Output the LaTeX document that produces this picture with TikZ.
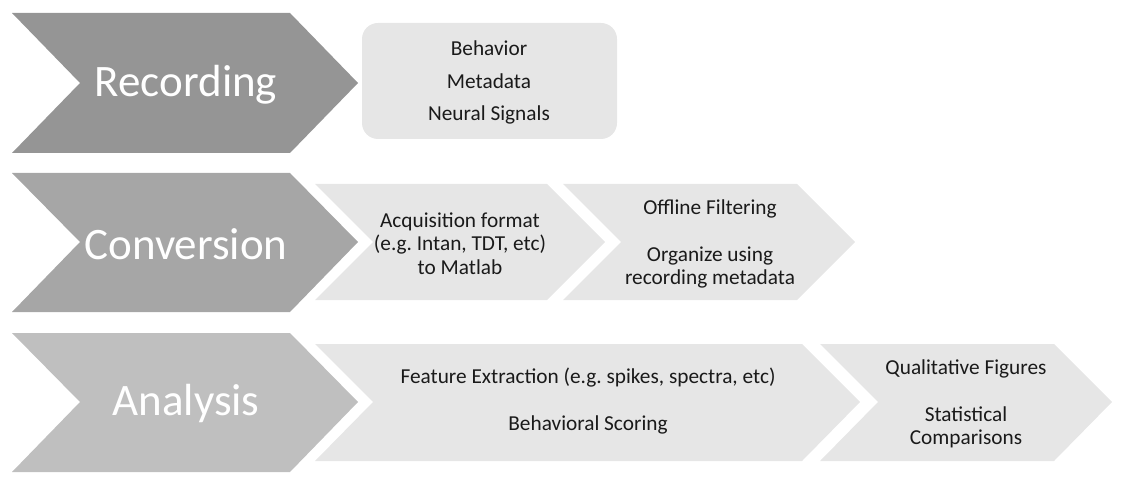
\documentclass[tikz,border=0pt]{standalone}
\usepackage{fontspec}
\setmainfont{Carlito}
\frenchspacing
\begin{document}
\begin{tikzpicture}[x=1pt,y=-1pt,
  subshape/.style={fill=boxgray,draw=none},
  biglabel/.style={text=white,font=\fontsize{45}{54}\selectfont,inner sep=0pt},
  smalltext/.style={text=txt,font=\fontsize{21.3}{23.5}\selectfont,align=center,inner sep=0pt}]
\definecolor{recgray}{HTML}{959595}
\definecolor{convgray}{HTML}{A6A6A6}
\definecolor{anagray}{HTML}{BFBFBF}
\definecolor{boxgray}{HTML}{E6E6E6}
\definecolor{txt}{HTML}{1A1A1A}
\useasboundingbox (0,0) rectangle (1124,494);
% big chevrons
\fill[recgray] (12,13)--(290,13)--(358,83)--(290,153)--(12,153)--(80,83)--cycle;
\fill[convgray] (12,173)--(290,173)--(358,242)--(290,312)--(12,312)--(80,242)--cycle;
\fill[anagray] (12,333)--(290,333)--(358,402)--(290,472)--(12,472)--(80,402)--cycle;
% sub shapes
\fill[subshape,rounded corners=16pt] (362,23) rectangle (617,139);
\fill[subshape] (315,184)--(547,184)--(605,242)--(547,300)--(315,300)--(373,242)--cycle;
\fill[subshape] (563,184)--(797,184)--(855,242)--(797,300)--(563,300)--(621,242)--cycle;
\fill[subshape] (315,344)--(802,344)--(860,402)--(802,461)--(315,461)--(373,402)--cycle;
\fill[subshape] (820,344)--(1054,344)--(1112,402)--(1054,461)--(820,461)--(878,402)--cycle;
% labels
\node[biglabel] (rec) at (186,85) {Recording};
\node[biglabel] (conv) at (186,244) {Conversion};
\node[biglabel] (ana) at (186,404) {Analysis};
\node[smalltext,font=\fontsize{21.3}{32.5}\selectfont] (recitems) at (489,82.5) {Behavior\\Metadata\\Neural Signals};
\node[smalltext] (acq) at (460,243.5) {Acquisition format\\(e.g. Intan, TDT, etc)\\to Matlab};
\node[smalltext] (filt) at (710,244) {Offline Filtering\\[23.5pt]Organize using\\recording metadata};
\node[smalltext] (feat) at (588,401.5) {Feature Extraction (e.g. spikes, spectra, etc)\\[23.5pt]Behavioral Scoring};
\node[smalltext] (stat) at (966,404) {Qualitative Figures\\[23.5pt]Statistical\\Comparisons};
\end{tikzpicture}
\end{document}
